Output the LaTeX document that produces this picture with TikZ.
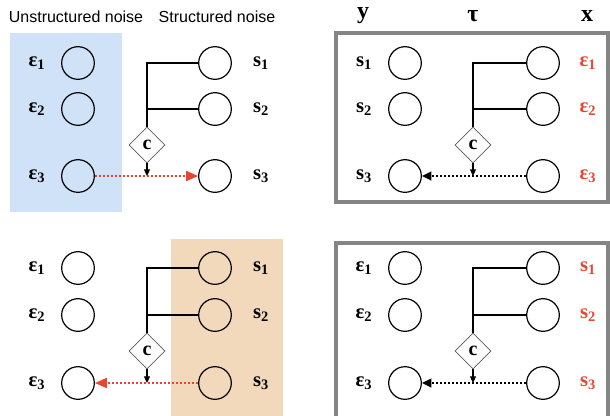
\documentclass[tikz,border=0pt]{standalone}
\usepackage{fontspec}
\setmainfont{Liberation Serif}
\newfontfamily\hdfont{Liberation Sans}
\usetikzlibrary{shapes.geometric,arrows.meta}
\definecolor{redc}{HTML}{E8442F}
\definecolor{bluebg}{HTML}{CFE2F8}
\definecolor{orgbg}{HTML}{F3D9BB}
\definecolor{boxgray}{HTML}{858585}
\tikzset{
  circ/.style={circle,draw,line width=0.9pt,minimum size=24.5pt,inner sep=0pt},
  lab/.style={font=\bfseries\fontsize{15.5}{17}\selectfont,inner sep=0pt},
  rlab/.style={lab,text=redc},
  hd/.style={font=\hdfont\fontsize{12}{14}\selectfont,inner sep=0pt},
  ghd/.style={font=\bfseries\fontsize{18}{20}\selectfont,inner sep=0pt},
  dia/.style={diamond,draw=black!65,line width=0.6pt,minimum size=27pt,inner sep=0pt,font=\bfseries\fontsize{15}{17}\selectfont},
  trunk/.style={line width=0.8pt},
  carrow/.style={line width=0.8pt,-{Triangle[length=5pt,width=4.5pt]}},
  rdot/.style={draw=redc,line width=1.5pt,dash pattern=on 1.5pt off 1.5pt,-{Triangle[length=9pt,width=7.5pt,fill=redc]}},
  kdot/.style={line width=1.5pt,dash pattern=on 1.5pt off 1.5pt,-{Triangle[length=7pt,width=6.5pt]}},
  frame/.style={draw=boxgray,line width=2.3pt}
}
\begin{document}
\begin{tikzpicture}[x=0.75pt,y=-0.75pt]
\useasboundingbox (0,0) rectangle (610,415);
\clip (0,0) rectangle (610,415);
% backgrounds
\fill[bluebg] (10,33) rectangle (122,212);
\fill[orgbg] (171,239) rectangle (283,420);
\draw[frame] (336,33) rectangle (608,202);
\draw[frame] (336,243) rectangle (608,430);
% headers
\node[hd] (h1) at (76,17) {Unstructured noise};
\node[hd] (h2) at (217,17) {Structured noise};
\node[ghd] (hy) at (363,16) {y};
\node[ghd] (ht) at (473,16) {τ};
\node[ghd] (hx) at (587,16) {x};

% ---------- top-left ----------
\foreach \i/\y in {1/63,2/109,3/176}{
  \node[circ] (a\i) at (78,\y) {};
  \node[circ] (b\i) at (215,\y) {};
  \node[lab] (al\i) at (37,\y) {ε\textsubscript{\i}};
  \node[lab] (bl\i) at (261,\y) {s\textsubscript{\i}};
}
\node[dia] (da) at (147,145) {c};
\coordinate (ja) at (da |- b3);
\draw[trunk] (b1.west) -- (b1.west -| da.north) -- (da.north);
\draw[trunk] (b2.west) -- (b2.west -| da.north);
\draw[rdot] (a3.east) -- (b3.west);
\draw[carrow] (da.south) -- (ja);

% ---------- top-right ----------
\foreach \i/\y in {1/63,2/109,3/176}{
  \node[circ] (c\i) at (405,\y) {};
  \node[circ] (d\i) at (543,\y) {};
  \node[lab] (cl\i) at (364,\y) {s\textsubscript{\i}};
  \node[rlab] (dl\i) at (588,\y) {ε\textsubscript{\i}};
}
\node[dia] (db) at (473,145) {c};
\coordinate (jb) at (db |- d3);
\draw[trunk] (d1.west) -- (d1.west -| db.north) -- (db.north);
\draw[trunk] (d2.west) -- (d2.west -| db.north);
\draw[kdot] (d3.west) -- (c3.east);
\draw[carrow] (db.south) -- (jb);

% ---------- bottom-left ----------
\foreach \i/\y in {1/268,2/315,3/383}{
  \node[circ] (e\i) at (78,\y) {};
  \node[circ] (f\i) at (215,\y) {};
  \node[lab] (el\i) at (37,\y) {ε\textsubscript{\i}};
  \node[lab] (fl\i) at (261,\y) {s\textsubscript{\i}};
}
\node[dia] (dc) at (147,351) {c};
\coordinate (jc) at (dc |- f3);
\draw[trunk] (f1.west) -- (f1.west -| dc.north) -- (dc.north);
\draw[trunk] (f2.west) -- (f2.west -| dc.north);
\draw[rdot] (f3.west) -- (e3.east);
\draw[carrow] (dc.south) -- (jc);

% ---------- bottom-right ----------
\foreach \i/\y in {1/268,2/315,3/383}{
  \node[circ] (g\i) at (405,\y) {};
  \node[circ] (k\i) at (543,\y) {};
  \node[lab] (gl\i) at (364,\y) {ε\textsubscript{\i}};
  \node[rlab] (kl\i) at (588,\y) {s\textsubscript{\i}};
}
\node[dia] (dd) at (473,351) {c};
\coordinate (jd) at (dd |- k3);
\draw[trunk] (k1.west) -- (k1.west -| dd.north) -- (dd.north);
\draw[trunk] (k2.west) -- (k2.west -| dd.north);
\draw[kdot] (k3.west) -- (g3.east);
\draw[carrow] (dd.south) -- (jd);
\end{tikzpicture}
\end{document}
